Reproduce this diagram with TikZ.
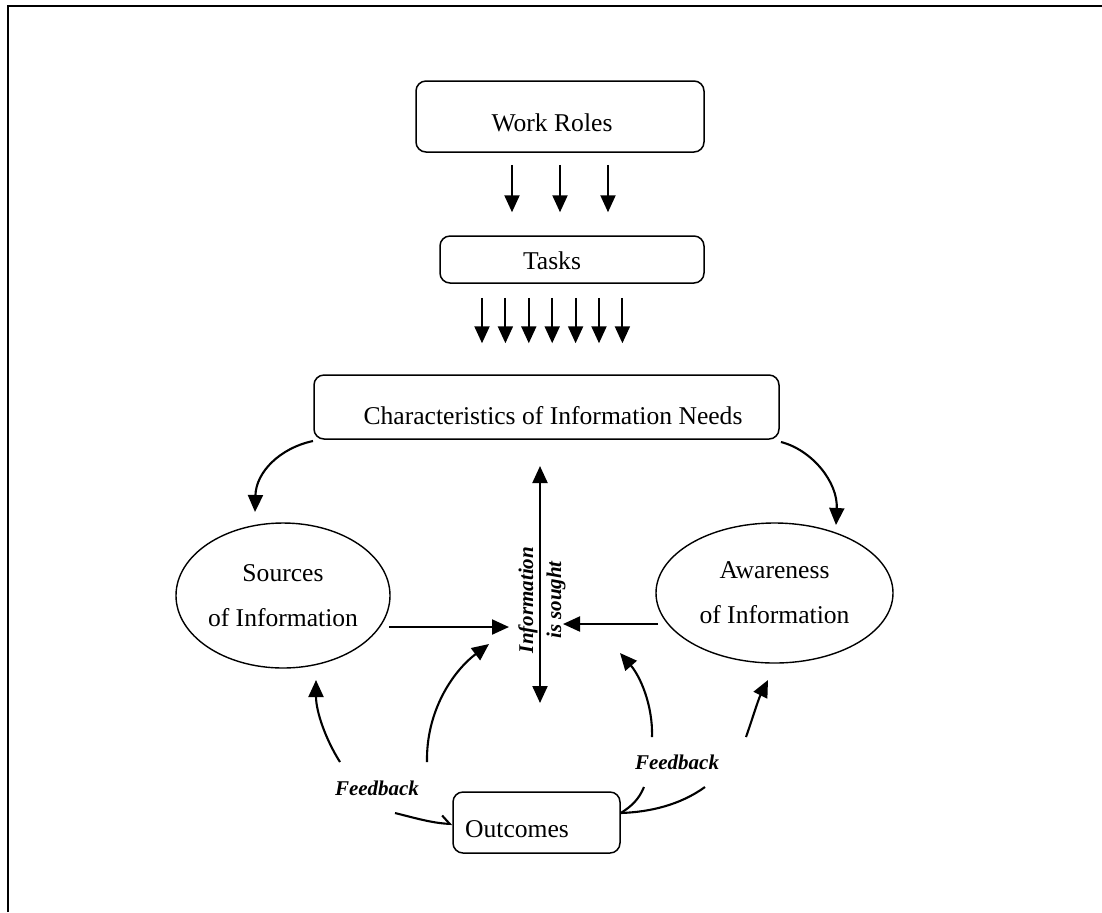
\documentclass[tikz,border=0pt]{standalone}
\usepackage{fontspec}
\setmainfont{Liberation Serif}
\usetikzlibrary{arrows.meta,shapes.geometric}
\begin{document}
\begin{tikzpicture}[x=0.5pt,y=-0.5pt,
  box/.style={draw, rounded corners=5pt, line width=0.75pt, inner sep=0},
  lbl/.style={font=\fontsize{12.8}{22.5}\selectfont, inner sep=0},
  oval/.style={draw, ellipse, line width=0.7pt, inner sep=0, align=center, font=\fontsize{12.8}{22.5}\selectfont},
  arr/.style={line width=1.05pt, -{Triangle[length=8.5pt,width=7.5pt]}},
  darr/.style={line width=1.05pt, {Triangle[length=8.5pt,width=7.5pt]}-{Triangle[length=8.5pt,width=7.5pt]}},
  barb/.style={line width=1.05pt, -{Straight Barb[left,length=4pt,width=8pt]}},
  plain/.style={line width=1.05pt},
  fb/.style={font=\bfseries\itshape\fontsize{10.5}{14}\selectfont, inner sep=0},
]
\useasboundingbox (0,0) rectangle (1102,912);
% outer frame (only left and top visible)
\draw[line width=1.2pt] (8,912) -- (8,6) -- (1102,6);

% boxes
\node[box, minimum width=144pt, minimum height=35.5pt] (wr) at (560,116.5) {};
\node[lbl] (wrt) at (552,123) {Work Roles};
\node[box, minimum width=132pt, minimum height=23.5pt] (tk) at (572,259.5) {};
\node[lbl] (tkt) at (552,261) {Tasks};
\node[box, minimum width=232.5pt, minimum height=32pt] (chr) at (546.5,407) {};
\node[lbl] (chrt) at (553,416) {Characteristics of Information Needs};
\node[box, minimum width=83.5pt, minimum height=30.5pt] (out) at (536.5,822.5) {};
\node[lbl] (outt) at (517,829) {Outcomes};

% ellipses
\node[oval, minimum width=107pt, minimum height=72.5pt] (src) at (283,595.5) {Sources\\of Information};
\node[oval, minimum width=118.5pt, minimum height=70pt] (awr) at (774.5,593) {Awareness\\of Information};

% work roles -> tasks
\foreach \dx in {-48,0,48} {
  \coordinate (a\dx) at ([xshift=\dx*0.5pt, yshift=-12*0.5pt]wr.south);
  \coordinate (b\dx) at ([xshift={(\dx-12)*0.5pt}, yshift=23*0.5pt]tk.north);
  \draw[arr] (a\dx) -- (b\dx);
}
% tasks -> characteristics
\foreach \k in {0,...,6} {
  \coordinate (c\k) at ([xshift={(-90+23.4*\k)*0.5pt}, yshift=-14*0.5pt]tk.south);
  \coordinate (d\k) at ([xshift={(-64.5+23.4*\k)*0.5pt}, yshift=31*0.5pt]chr.north);
  \draw[arr] (c\k) -- (d\k);
}

% characteristics -> sources / awareness
\coordinate (l1) at (313,441);
\coordinate (l2) at (255,512);
\draw[arr] (l1) .. controls (280,448) and (256,472) .. (l2);
\coordinate (r1) at (781,442);
\coordinate (r2) at (836,525);
\draw[arr] (r1) .. controls (812,450) and (838,482) .. (r2);

% central double arrow
\coordinate (vt) at (540,466);
\coordinate (vb) at (540,703);
\draw[darr] (vt) -- (vb);
\node[fb, rotate=90, align=center] (seek) at (542,600) {Information\\is sought};

% horizontal arrows
\coordinate (h1) at (389,627);
\coordinate (h2) at (509,627);
\draw[arr] (h1) -- (h2);
\coordinate (h3) at (658,624);
\coordinate (h4) at (563,624);
\draw[arr] (h3) -- (h4);

% feedback curves left
\coordinate (f1) at (340,762);
\coordinate (f2) at (316,680);
\draw[arr] (f1) .. controls (326,740) and (316,712) .. (f2);
\coordinate (f3) at (427,762);
\coordinate (f4) at (489,644);
\draw[arr] (f3) .. controls (426,712) and (452,672) .. (f4);
\coordinate (f5) at (395,813);
\draw[barb] (f5) .. controls (415,818) and (432,823) .. (out.west |- 0,824);

% feedback curves right
\coordinate (g1) at (652,737);
\coordinate (g2) at (620,653);
\draw[arr] (g1) .. controls (653,705) and (640,676) .. (g2);
\coordinate (g3) at (746,737);
\coordinate (g4) at (768,680);
\draw[arr] (g3) .. controls (752,720) and (758,700) .. (g4);
\coordinate (g5) at (644,787);
\coordinate (g6) at (705,787);
\draw[plain] (g5) .. controls (639,799) and (632,806) .. (out.east |- 0,813);
\draw[plain] (g6) .. controls (680,805) and (650,812) .. (out.east |- 0,813);

\node[fb] (fbl) at (377,788) {Feedback};
\node[fb] (fbr) at (677,762) {Feedback};
\end{tikzpicture}
\end{document}
